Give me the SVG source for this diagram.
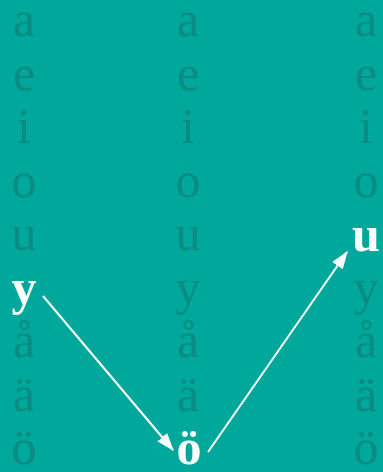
<svg xmlns="http://www.w3.org/2000/svg" width="383" height="472" viewBox="0 0 383 472">
<style>
.f{font-family:"Liberation Serif","DejaVu Serif",serif;font-size:50px;fill:#0b8c82;text-anchor:middle}
.h{font-family:"Liberation Serif","DejaVu Serif",serif;font-size:50px;font-weight:bold;fill:#ffffff;text-anchor:middle}
.c{stroke:#ffffff;stroke-width:2;fill:none}
</style>
<defs>
<marker id="ah" viewBox="0 0 14 10" refX="13" refY="5" markerWidth="9" markerHeight="6.5" orient="auto" markerUnits="strokeWidth">
<path d="M0,0 L14,5 L0,10 z" fill="#ffffff"/>
</marker>
</defs>
<rect width="383" height="472" fill="#00a89b"/>
<g id="col-left">
<text class="f" x="24" y="36">a</text>
<text class="f" x="24" y="90">e</text>
<text class="f" x="24" y="143">i</text>
<text class="f" x="24" y="197">o</text>
<text class="f" x="24" y="250">u</text>
<text class="f" x="24" y="357">å</text>
<text class="f" x="24" y="411">ä</text>
<text class="f" x="24" y="464">ö</text>
</g>
<g id="col-mid">
<text class="f" x="188" y="36">a</text>
<text class="f" x="188" y="90">e</text>
<text class="f" x="188" y="143">i</text>
<text class="f" x="188" y="197">o</text>
<text class="f" x="188" y="250">u</text>
<text class="f" x="188" y="304">y</text>
<text class="f" x="188" y="357">å</text>
<text class="f" x="188" y="411">ä</text>
</g>
<g id="col-right">
<text class="f" x="366" y="36">a</text>
<text class="f" x="366" y="90">e</text>
<text class="f" x="366" y="143">i</text>
<text class="f" x="366" y="197">o</text>
<text class="f" x="366" y="304">y</text>
<text class="f" x="366" y="357">å</text>
<text class="f" x="366" y="411">ä</text>
<text class="f" x="366" y="464">ö</text>
</g>
<g id="node-y"><text class="h" x="24" y="304">y</text></g>
<g id="node-oe"><text class="h" x="189" y="464">ö</text></g>
<g id="node-u"><text class="h" x="366" y="251">u</text></g>
<g id="connectors">
<line class="c" x1="43" y1="296" x2="173" y2="450" marker-end="url(#ah)"/>
<line class="c" x1="208" y1="452" x2="347" y2="252" marker-end="url(#ah)"/>
</g>
</svg>
